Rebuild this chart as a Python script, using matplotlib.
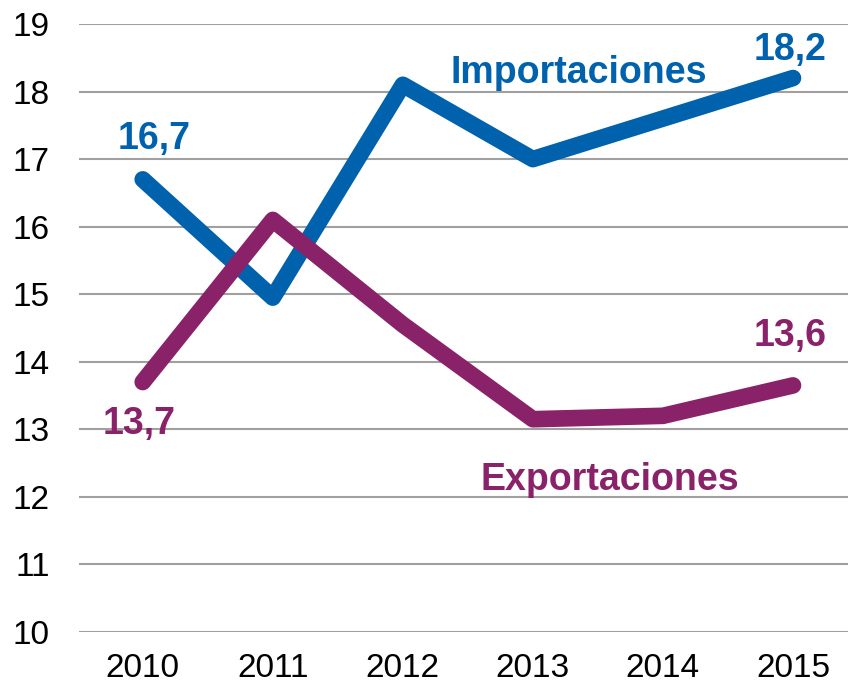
import numpy as np
import matplotlib.pyplot as plt

plt.rcParams['font.family'] = ['Liberation Sans', 'DejaVu Sans']

years = ['2010', '2011', '2012', '2013', '2014', '2015']
importaciones = [16.7, 14.95, 18.1, 17.0, 17.6, 18.2]
exportaciones = [13.7, 16.1, 14.55, 13.15, 13.2, 13.65]
y_ticks = [10, 11, 12, 13, 14, 15, 16, 17, 18, 19]

blue = '#0062AD'
purple = '#8A226A'

fig = plt.figure(figsize=(8.48, 6.88), dpi=100)
ax = fig.add_axes([79 / 848, 56 / 688, 779 / 848, 608 / 688])

x = np.arange(len(years))

# gridlines
for t in y_ticks:
    ax.axhline(t, color='#A0A0A0', lw=1.5, zorder=1)

ax.plot(x, importaciones, color=blue, lw=12, solid_capstyle='round',
        solid_joinstyle='round', zorder=3)
ax.plot(x, exportaciones, color=purple, lw=12, solid_capstyle='round',
        solid_joinstyle='round', zorder=4)

# labels for first and last values
ax.text(x[0] + 0.09, 17.3, '16,7', color=blue, fontsize=27, fontweight='bold',
        ha='center', va='center')
ax.text(x[-1] - 0.02, 18.62, '18,2', color=blue, fontsize=27, fontweight='bold',
        ha='center', va='center')
ax.text(x[0] - 0.03, 13.08, '13,7', color=purple, fontsize=27, fontweight='bold',
        ha='center', va='center')
ax.text(x[-1] - 0.02, 14.38, '13,6', color=purple, fontsize=27, fontweight='bold',
        ha='center', va='center')

ax.text(3.35, 18.13, 'Importaciones', color=blue, fontsize=27, fontweight='bold',
        ha='center', va='baseline')
ax.text(3.59, 12.10, 'Exportaciones', color=purple, fontsize=27, fontweight='bold',
        ha='center', va='baseline')

ax.set_xlim(-0.49, 5.5)
ax.set_ylim(10, 19)
ax.set_xticks(x)
ax.set_xticklabels(years)
ax.set_yticks(y_ticks)
ax.tick_params(axis='both', length=0, labelsize=24, colors='black')
ax.tick_params(axis='y', pad=21)
ax.tick_params(axis='x', pad=15)
for s in ax.spines.values():
    s.set_visible(False)

fig.savefig('out.png', dpi=100)
